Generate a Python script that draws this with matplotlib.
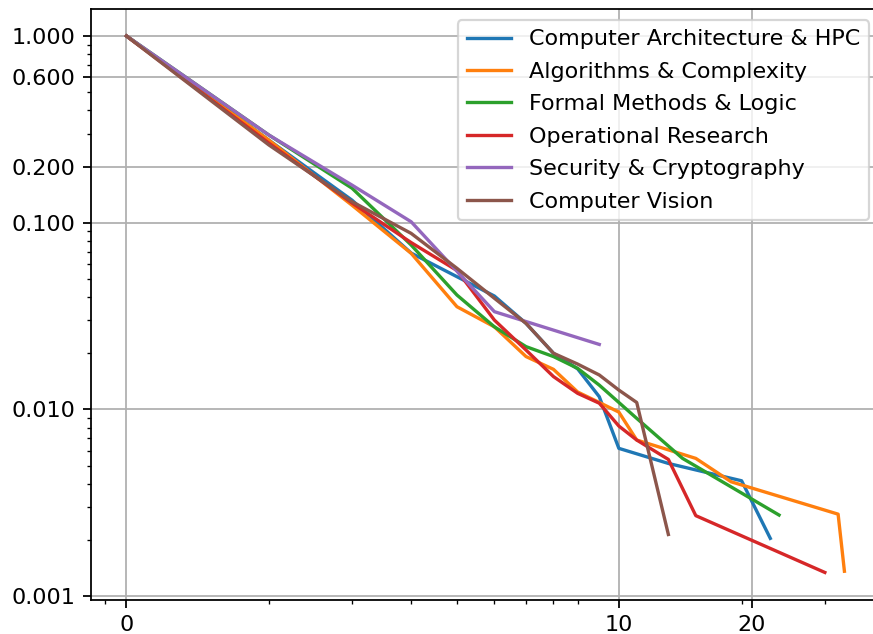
import numpy as np
import matplotlib
matplotlib.use("Agg")
import matplotlib.pyplot as plt
from matplotlib.ticker import FixedLocator, FixedFormatter

labels = ["Computer Architecture & HPC", "Algorithms & Complexity",
          "Formal Methods & Logic", "Operational Research",
          "Security & Cryptography", "Computer Vision"]

x_arch = [0, 1, 2, 3, 4, 5, 6, 7, 8, 9, 10, 13, 19, 22]
y_arch = [1.0, 0.277, 0.132, 0.0688, 0.0514, 0.0405, 0.0289, 0.0200, 0.0165,
          0.0117, 0.00619, 0.00514, 0.00415, 0.00204]

x_algo = [0, 1, 2, 3, 4, 5, 6, 7, 8, 9, 10, 11, 15, 18, 31, 32]
y_algo = [1.0, 0.277, 0.124, 0.0686, 0.0355, 0.0277, 0.0192, 0.0164, 0.0124,
          0.0109, 0.00968, 0.00686, 0.00547, 0.00410, 0.00275, 0.00136]

x_formal = [0, 1, 2, 3, 4, 5, 6, 7, 8, 9, 10, 11, 14, 23]
y_formal = [1.0, 0.295, 0.153, 0.0760, 0.0410, 0.0277, 0.0217, 0.0192, 0.0166,
            0.0135, 0.0109, 0.00896, 0.00547, 0.00272]

x_or = [0, 1, 2, 3, 4, 5, 6, 7, 8, 9, 10, 11, 13, 15, 29]
y_or = [1.0, 0.267, 0.1275, 0.0783, 0.0555, 0.0301, 0.0208, 0.0150, 0.0122,
        0.0108, 0.00815, 0.00686, 0.00540, 0.00270, 0.00134]

x_sec = [0, 1, 2, 3, 5, 9]
y_sec = [1.0, 0.295, 0.159, 0.1012, 0.0334, 0.0223]

x_cv = [0, 1, 2, 3, 4, 5, 6, 7, 8, 9, 10, 11, 13]
y_cv = [1.0, 0.261, 0.1296, 0.0877, 0.0570, 0.0394, 0.0289, 0.0200, 0.0175,
        0.0153, 0.0127, 0.0109, 0.00214]

xs = [x_arch, x_algo, x_formal, x_or, x_sec, x_cv]
ys = [y_arch, y_algo, y_formal, y_or, y_sec, y_cv]

x_major = [0, 10, 20]
x_major_labels = ["0", "10", "20"]
x_minor = [-0.1, 1, 2, 3, 4, 5, 6, 7, 8, 19, 29]
y_major = [0.001, 0.01, 0.1, 0.2, 0.6, 1.0]
y_major_labels = ["0.001", "0.010", "0.100", "0.200", "0.600", "1.000"]


def fwd(x):
    x = np.asarray(x, dtype=float)
    with np.errstate(invalid="ignore", divide="ignore"):
        return np.log10(np.maximum(x + 1.0, 1e-12))


def inv(y):
    return 10.0 ** np.asarray(y, dtype=float) - 1.0


W, H, DPI = 873, 634, 160
fig = plt.figure(figsize=(W / DPI, H / DPI), dpi=DPI)
left, right, top, bottom = 90.7, 880.3, 9.3, 599.5
ax = fig.add_axes([left / W, 1 - bottom / H, (right - left) / W, (bottom - top) / H])

for x, y, lab in zip(xs, ys, labels):
    ax.plot(x, y, label=lab, linewidth=1.5)

ax.set_xscale("function", functions=(fwd, inv))
ax.set_yscale("log")
ax.set_xlim(-0.16, 38.3)
ax.set_ylim(0.00096, 1.39)

ax.xaxis.set_major_locator(FixedLocator(x_major))
ax.xaxis.set_major_formatter(FixedFormatter(x_major_labels))
ax.xaxis.set_minor_locator(FixedLocator(x_minor))
ax.yaxis.set_major_locator(FixedLocator(y_major))
ax.yaxis.set_major_formatter(FixedFormatter(y_major_labels))

ax.grid(True, which="major")
ax.legend(loc="upper right", labelspacing=0.56)

fig.savefig("out.png", dpi=DPI)
